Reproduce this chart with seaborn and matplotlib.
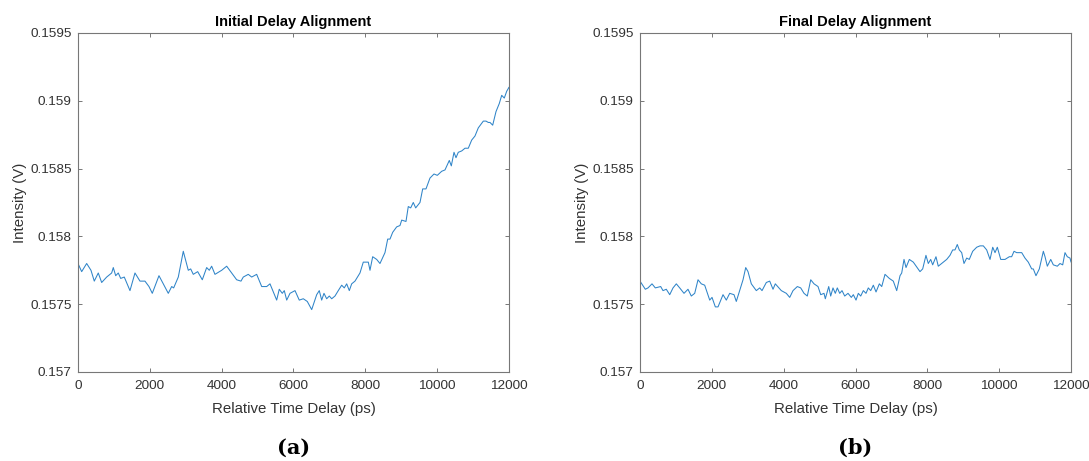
import numpy as np
import pandas as pd
import matplotlib
matplotlib.use("Agg")
import matplotlib.pyplot as plt
import seaborn as sns
from matplotlib.ticker import FuncFormatter

# -----------------------------------------------------------------------------
# Data
# -----------------------------------------------------------------------------
initial_delay = [0, 103, 242, 362, 454, 565, 660, 799, 938, 983, 1050, 1122, 1189, 1289,
                 1448, 1587, 1726, 1865, 1977, 2069, 2255, 2375, 2514, 2609, 2664, 2793,
                 2932, 3071, 3138, 3210, 3333, 3461, 3583, 3656, 3722, 3814, 4001, 4140,
                 4279, 4418, 4538, 4602, 4741, 4836, 4975, 5115, 5254, 5346, 5532, 5604,
                 5688, 5744, 5811, 5903, 6042, 6161, 6273, 6384, 6507, 6646, 6718, 6785,
                 6849, 6924, 6997, 7064, 7155, 7247, 7342, 7414, 7481, 7554, 7620, 7712,
                 7851, 7943, 8083, 8130, 8205, 8316, 8408, 8547, 8623, 8687, 8762, 8873,
                 8965, 9013, 9132, 9196, 9263, 9335, 9402, 9522, 9597, 9689, 9800, 9912,
                 10004, 10126, 10218, 10338, 10394, 10469, 10524, 10588, 10683, 10775,
                 10867, 10961, 11053, 11145, 11285, 11360, 11424, 11471, 11546, 11638,
                 11730, 11797, 11869, 11936, 11980, 12000]
initial_intensity = [0.15780, 0.15774, 0.15780, 0.15775, 0.15767, 0.15773, 0.15766, 0.15770,
                     0.15773, 0.15777, 0.15771, 0.15773, 0.15769, 0.15770, 0.15760, 0.15773,
                     0.15767, 0.15767, 0.15763, 0.15758, 0.15771, 0.15765, 0.15758, 0.15763,
                     0.15762, 0.15770, 0.15789, 0.15775, 0.15776, 0.15772, 0.15774, 0.15768,
                     0.15777, 0.15775, 0.15778, 0.15772, 0.15775, 0.15778, 0.15773, 0.15768,
                     0.15767, 0.15770, 0.15772, 0.15770, 0.15772, 0.15763, 0.15763, 0.15765,
                     0.15753, 0.15761, 0.15758, 0.15760, 0.15753, 0.15758, 0.15760, 0.15753,
                     0.15754, 0.15752, 0.15746, 0.15757, 0.15760, 0.15753, 0.15758, 0.15754,
                     0.15756, 0.15754, 0.15756, 0.15760, 0.15764, 0.15762, 0.15765, 0.15760,
                     0.15765, 0.15767, 0.15773, 0.15781, 0.15781, 0.15775, 0.15785, 0.15783,
                     0.15780, 0.15788, 0.15798, 0.15798, 0.15803, 0.15807, 0.15808, 0.15812,
                     0.15811, 0.15822, 0.15821, 0.15825, 0.15821, 0.15825, 0.15835, 0.15835,
                     0.15843, 0.15846, 0.15845, 0.15848, 0.15849, 0.15856, 0.15852, 0.15862,
                     0.15858, 0.15862, 0.15863, 0.15865, 0.15865, 0.15871, 0.15874, 0.15880,
                     0.15885, 0.15885, 0.15884, 0.15884, 0.15882, 0.15892, 0.15898, 0.15904,
                     0.15902, 0.15907, 0.15909, 0.15910]

final_delay = [0, 148, 223, 334, 426, 576, 640, 732, 827, 919, 1011, 1105, 1225, 1336,
               1428, 1523, 1615, 1707, 1801, 1941, 2005, 2097, 2172, 2311, 2403, 2497,
               2617, 2681, 2776, 2868, 2943, 3007, 3099, 3238, 3333, 3397, 3517, 3611,
               3703, 3767, 3934, 4073, 4168, 4260, 4380, 4474, 4566, 4658, 4753, 4845,
               4956, 5031, 5123, 5159, 5254, 5309, 5373, 5437, 5493, 5560, 5624, 5699,
               5791, 5883, 5939, 6014, 6078, 6145, 6217, 6292, 6356, 6423, 6496, 6571,
               6663, 6730, 6821, 6941, 7052, 7147, 7239, 7286, 7350, 7406, 7498, 7609,
               7795, 7870, 7961, 8026, 8093, 8148, 8240, 8304, 8399, 8538, 8630, 8705,
               8769, 8833, 8889, 8956, 9020, 9095, 9167, 9262, 9374, 9466, 9558, 9652,
               9745, 9820, 9884, 9948, 10043, 10162, 10282, 10347, 10413, 10487, 10627,
               10718, 10810, 10905, 10950, 11024, 11117, 11229, 11276, 11340, 11435,
               11507, 11618, 11693, 11768, 11832, 11896, 11971, 12000]
final_intensity = [0.15767, 0.15761, 0.15762, 0.15765, 0.15762, 0.15763, 0.15760, 0.15761,
                   0.15757, 0.15762, 0.15765, 0.15762, 0.15758, 0.15761, 0.15756, 0.15758,
                   0.15768, 0.15765, 0.15764, 0.15753, 0.15755, 0.15748, 0.15748, 0.15757,
                   0.15753, 0.15758, 0.15757, 0.15752, 0.15760, 0.15768, 0.15777, 0.15774,
                   0.15765, 0.15760, 0.15762, 0.15760, 0.15766, 0.15767, 0.15761, 0.15765,
                   0.15760, 0.15758, 0.15755, 0.15760, 0.15763, 0.15762, 0.15758, 0.15756,
                   0.15768, 0.15765, 0.15763, 0.15757, 0.15758, 0.15754, 0.15763, 0.15756,
                   0.15762, 0.15758, 0.15762, 0.15758, 0.15760, 0.15756, 0.15758, 0.15755,
                   0.15757, 0.15753, 0.15758, 0.15756, 0.15760, 0.15758, 0.15762, 0.15760,
                   0.15764, 0.15759, 0.15765, 0.15763, 0.15772, 0.15769, 0.15767, 0.15760,
                   0.15771, 0.15773, 0.15783, 0.15777, 0.15783, 0.15781, 0.15774, 0.15776,
                   0.15786, 0.15780, 0.15783, 0.15779, 0.15785, 0.15778, 0.15780, 0.15783,
                   0.15786, 0.15790, 0.15790, 0.15794, 0.15790, 0.15788, 0.15780, 0.15784,
                   0.15783, 0.15789, 0.15792, 0.15793, 0.15793, 0.15790, 0.15783, 0.15792,
                   0.15788, 0.15792, 0.15783, 0.15783, 0.15785, 0.15785, 0.15789, 0.15788,
                   0.15788, 0.15784, 0.15781, 0.15776, 0.15776, 0.15771, 0.15776, 0.15789,
                   0.15785, 0.15778, 0.15783, 0.15779, 0.15778, 0.15780, 0.15779, 0.15788,
                   0.15785, 0.15784, 0.15781]

panel_titles = ['Initial Delay Alignment', 'Final Delay Alignment']
panel_captions = ['(a)', '(b)']
x_ticks = [0, 2000, 4000, 6000, 8000, 10000, 12000]
y_ticks = [0.157, 0.1575, 0.158, 0.1585, 0.159, 0.1595]

# -----------------------------------------------------------------------------
# Style (MATLAB-like)
# -----------------------------------------------------------------------------
sns.set_theme(style="ticks")
plt.rcParams['font.family'] = ['Liberation Sans', 'DejaVu Sans']
plt.rcParams['xtick.direction'] = 'in'
plt.rcParams['ytick.direction'] = 'in'

line_color = '#2f84c8'
axis_color = '#777777'
text_color = '#333333'

df_initial = pd.DataFrame({'delay': initial_delay, 'intensity': initial_intensity})
df_final = pd.DataFrame({'delay': final_delay, 'intensity': final_intensity})

fig = plt.figure(figsize=(10.89, 4.61), dpi=100)
ax_a = fig.add_axes([0.0716, 0.1931, 0.3958, 0.7354])
ax_b = fig.add_axes([0.5877, 0.1931, 0.3958, 0.7354])

for ax, df, title, caption in zip([ax_a, ax_b], [df_initial, df_final],
                                  panel_titles, panel_captions):
    sns.lineplot(data=df, x='delay', y='intensity', ax=ax, color=line_color,
                 linewidth=0.75, estimator=None, sort=False)
    ax.set_xlim(0, 12000)
    ax.set_ylim(0.157, 0.1595)
    ax.set_xticks(x_ticks)
    ax.set_yticks(y_ticks)
    ax.yaxis.set_major_formatter(FuncFormatter(lambda v, p: f'{v:g}'))
    ax.tick_params(axis='both', labelsize=9.7, color=axis_color, labelcolor=text_color,
                   length=3, width=0.7, top=True, right=True)
    ax.tick_params(axis='x', pad=6)
    ax.tick_params(axis='y', pad=4.5)
    for s in ax.spines.values():
        s.set_color(axis_color)
        s.set_linewidth(0.8)
        s.set_visible(True)
    ax.set_xlabel('Relative Time Delay (ps)', fontsize=10.8, color=text_color, labelpad=7)
    ax.set_ylabel('Intensity (V)', fontsize=10.8, color=text_color, labelpad=2.5)
    ax.set_title(title, fontsize=10.5, fontweight='bold', color='black', pad=5)
    ax.text(0.5, -0.224, caption, transform=ax.transAxes, ha='center', va='center',
            fontsize=15, fontweight='bold', family=['DejaVu Serif'], color='black')

plt.savefig('out.png', dpi=100)
plt.close()
